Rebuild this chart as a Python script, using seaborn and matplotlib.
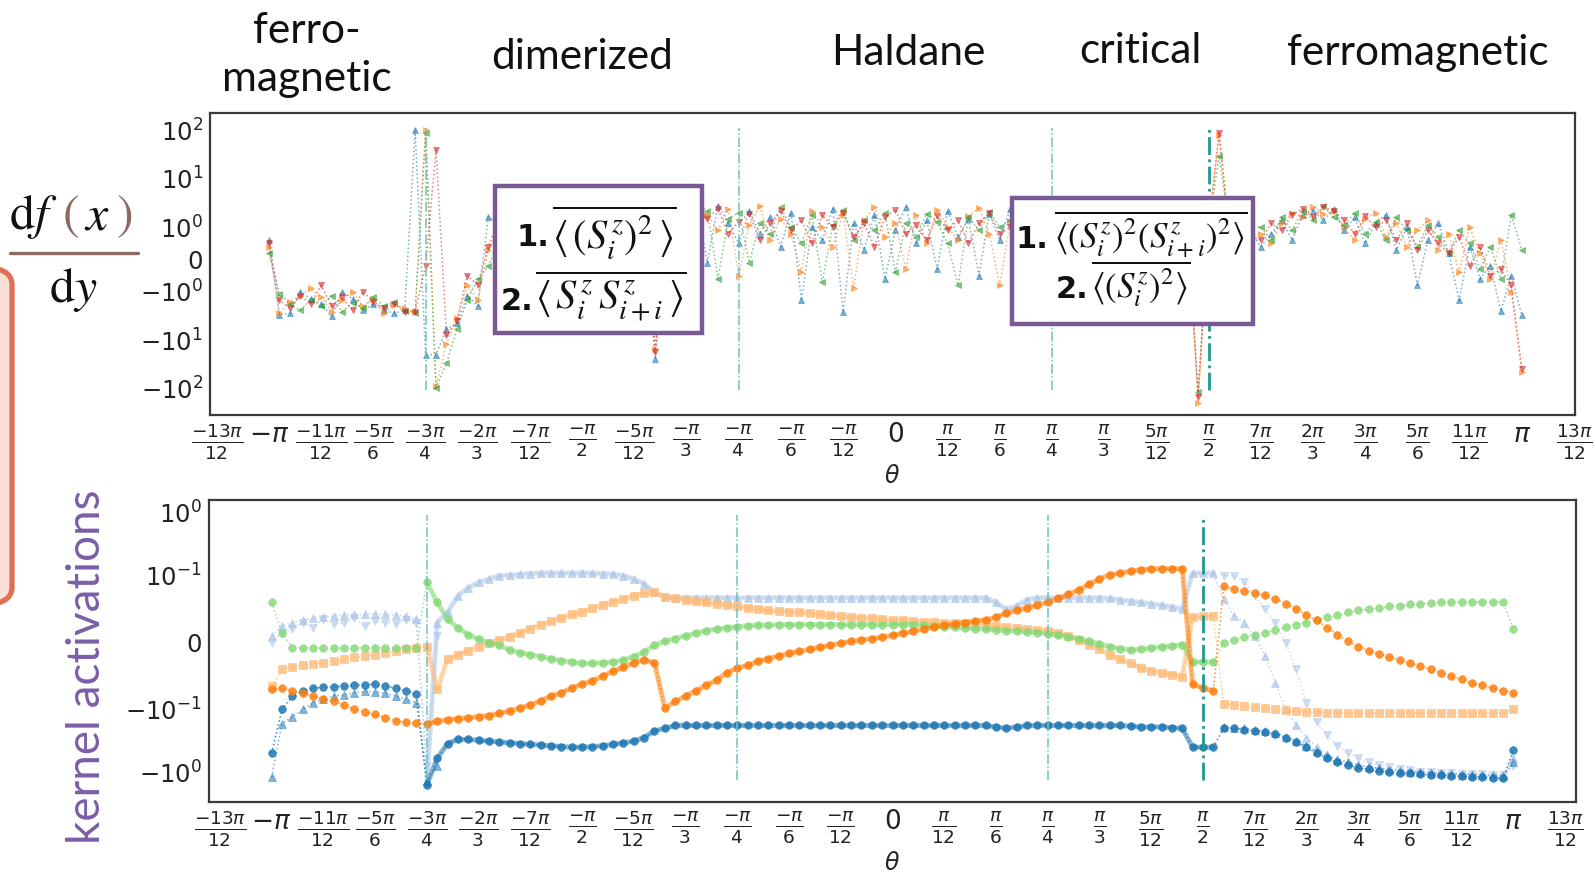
import numpy as np
import pandas as pd
import matplotlib
matplotlib.use("Agg")
import matplotlib.pyplot as plt
import seaborn as sns
from matplotlib.patches import FancyBboxPatch, Rectangle
from matplotlib.lines import Line2D

sns.set_style("white")
plt.rcParams["font.family"] = ["DejaVu Sans"]
plt.rcParams["mathtext.fontset"] = "dejavusans"

PI = np.pi
# coupling angle grid, step pi/60 from -pi to pi
theta = np.arange(-60, 61) * PI / 60

# ---------------- top panel: df(x)/dy for four inputs ----------------
grad_blue = [
    0.6, -3.0, -2.8, -1.0, -1.4, -1.8, -3.2, -1.0, -1.4, -2.4, -1.8, -2.4, -2.8, -2.4,
    100, -20, -20, -6, -4.5, -1.2, -2.0, 1.6,
    1.2, 2.0, 0.8, 1.6, 2.4, 1.0, 1.8, 0.6, 2.2, 1.4, 0.8, 1.6, 2.0, 0.4, 1.0, -25, 0.8, 2.6, 3.0, 2.4,
    -0.1, 2.8, 1.2, 0.5, 2.2, 0.8, 1.6, 0.4, 2.0, -1.5, 1.0, 0.6, 2.4, -2.6, 1.2,
    0.3, 1.8, -0.6, 0.9, 2.6, 0.5, 1.4, -0.3, 2.2, 0.7, 1.5, -0.5, 1.9, 0.6, 2.4,
    1.0, 2.8, 0.6, 1.6, 2.2, 0.4, 1.2, 2.6, 0.8, 1.8, 0.5, 1.4, 2.0, 0.9, 1.6, 0.7, 1.2, 1.0, 0.8, 1.5, 0.6, 1.1, 0.9,
    0.4, 0.8, 1.4, 0.6, 1.8, 2.2, 1.4, 2.4, 0.9, 1.6, 0.5, 1.2, 1.8, 0.3, 1.0, -0.8, 0.6, 1.2, 0.2, -1.5, 0.4, -0.6, -0.2, -2.5, -0.5, -3.0,
]
grad_orange = [
    0.4, -2.8, -1.6, -1.2, -0.9, -1.3, -2.6, -1.5, -1.0, -2.0, -1.4, -2.8, -1.9, -2.2,
    -2.6, 100, -90, -12, -3.5, -0.8, -1.5, 0.3,
    0.9, 1.6, 0.7, 2.0, 1.2, 0.5, 1.7, 1.1, 2.3, 0.8, 1.5, 0.6, 1.9, 1.0, 0.7, -15, 1.2, 2.2, 3.2, 2.6,
    1.8, 0.9, 2.4, -0.5, 1.1, 2.8, 0.6, 1.5, 0.8, -0.4, 2.2, 1.0, 0.4, 1.9, -0.9,
    1.4, 2.6, 0.7, 1.2, -0.3, 1.8, 0.5, 2.3, 1.0, 0.6, 1.7, 2.5, 0.8, -0.8, 1.3,
    1.5, 0.8, 2.4, 1.1, 0.6, 1.9, 2.6, 0.9, 1.3, 0.7, 1.6, 2.0, 1.0, 0.5, 1.4, 0.8, 1.2, -200, 1.0, 80, 0.9, 0.6, 0.8,
    0.8, 0.5, 1.2, 2.0, 1.6, 2.6, 1.9, 2.2, 1.0, 0.6, 1.5, 2.0, 0.7, 1.2, 0.4, 0.9, 1.4, 0.3, 0.8, -0.4, 1.0, 0.2, -0.6, 0.6, -1.0, -45,
]
grad_green = [
    0.2, -1.1, -1.8, -2.4, -1.5, -2.0, -1.2, -2.6, -1.7, -2.2, -1.3, -2.0, -1.6, -2.5,
    -2.7, 90, -100, -30, -6, -1.5, -0.6, -0.2,
    0.5, 1.3, 2.0, 0.9, 1.6, 2.4, 0.8, 1.4, 1.1, 2.0, 0.7, 1.5, 2.2, 1.0, 0.6, -2.0, 1.4, 2.5, 3.0, 2.8,
    2.2, -0.6, 1.5, 2.0, -0.1, 1.2, 0.8, 2.6, 1.0, 0.5, 1.8, -0.7, 1.1, 2.3, 0.6,
    1.4, 0.9, 2.0, -0.4, 1.2, 0.7, 1.9, 1.3, 0.5, -0.8, 1.6, 0.9, 2.1, 1.0, 1.4,
    1.2, 2.0, 0.8, 1.5, 1.0, 2.4, 0.6, 1.3, 1.8, 0.9, 1.4, 0.7, 1.1, 1.6, 0.8, 1.2, 1.0, -120, 0.9, 30, 1.1, 0.7, 1.0,
    1.0, 0.6, 1.6, 0.9, 2.2, 1.4, 2.8, 1.6, 1.1, 2.0, 0.8, 1.3, 0.6, 1.6, 0.9, 0.4, 1.1, 0.7, 0.2, 0.9, 0.5, -0.3, 0.4, -0.6, 1.8, 0.3,
]
grad_red = [
    0.5, -1.5, -2.2, -1.2, -1.8, -0.8, -2.0, -1.3, -2.4, -1.0, -1.6, -2.2, -1.8, -2.6,
    -2.6, -0.2, 40, -8, -4, -0.5, -0.8, 0.4,
    1.4, 0.8, 2.2, 1.5, 0.9, 1.8, 2.4, 1.0, 0.6, 1.6, 2.0, 1.2, 0.8, 1.7, 0.9, -18, 1.5, 2.4, 2.8, 3.4,
    1.5, 2.4, 0.8, 1.3, 1.9, 0.6, 1.2, 2.2, 0.9, 1.4, 0.5, 1.8, 1.0, 2.0, 0.7,
    1.2, 0.4, 1.6, 2.3, 0.8, 1.1, 0.6, 1.7, 0.9, 1.4, 0.5, 1.2, 2.0, 0.8, 1.0,
    1.3, 0.9, 1.8, 2.6, 1.0, 1.4, 0.7, 2.0, 1.2, 0.8, 1.6, 1.1, 0.9, 1.5, 0.6, 1.2, 1.0, -150, 1.0, 90, 0.8, 1.0, 0.7,
    0.6, 1.2, 0.9, 1.8, 2.4, 1.6, 2.6, 2.2, 1.4, 0.8, 1.7, 1.0, 1.4, 0.6, 1.2, 0.3, 0.9, 0.5, 0.2, 0.7, -0.2, 0.4, -0.5, -0.3, -0.8, -40,
]

# ---------------- bottom panel: kernel activations ----------------
act_dark_orange = [
    -0.07, -0.068, -0.072, -0.076, -0.08, -0.085, -0.088, -0.093, -0.1, -0.11,
    -0.12, -0.135, -0.15, -0.16, -0.165, -0.17, -0.155, -0.145, -0.14, -0.135,
    -0.13, -0.125, -0.115, -0.105, -0.098, -0.093, -0.087, -0.08, -0.075, -0.068,
    -0.062, -0.057, -0.05, -0.043, -0.037, -0.03, -0.026, -0.03, -0.098, -0.088,
    -0.08, -0.072, -0.064, -0.056, -0.045, -0.038, -0.034, -0.028, -0.024, -0.02,
    -0.016, -0.013, -0.01, -0.007, -0.004, -0.001, 0.002, 0.004, 0.006, 0.008,
    0.011, 0.014, 0.017, 0.02, 0.023, 0.026, 0.028, 0.03, 0.032, 0.034,
    0.038, 0.044, 0.048, 0.052, 0.056, 0.06, 0.066, 0.072, 0.079, 0.087,
    0.095, 0.104, 0.11, 0.118, 0.124, 0.128, 0.13, 0.13, 0.128, -0.062,
    -0.068, -0.072, 0.084, 0.08, 0.077, 0.074, 0.071, 0.065, 0.058, 0.05,
    0.041, 0.033, 0.022, 0.012, 0.002, -0.006, -0.012, -0.017, -0.022, -0.026,
    -0.031, -0.035, -0.04, -0.045, -0.05, -0.055, -0.06, -0.064, -0.068, -0.072,
    -0.075,
]
act_light_orange = [
    -0.065, -0.04, -0.036, -0.034, -0.032, -0.03, -0.028, -0.025, -0.022, -0.02,
    -0.018, -0.016, -0.013, -0.01, -0.008, -0.006, -0.07, -0.025, -0.018, -0.012,
    -0.006, -0.001, 0.004, 0.009, 0.015, 0.021, 0.027, 0.032, 0.037, 0.042,
    0.046, 0.051, 0.056, 0.061, 0.065, 0.07, 0.074, 0.075, 0.068, 0.066,
    0.064, 0.062, 0.06, 0.058, 0.056, 0.054, 0.052, 0.05, 0.048, 0.047,
    0.046, 0.045, 0.044, 0.042, 0.041, 0.039, 0.038, 0.037, 0.036, 0.035,
    0.034, 0.033, 0.032, 0.031, 0.031, 0.03, 0.03, 0.03, 0.029, 0.027,
    0.025, 0.024, 0.022, 0.021, 0.019, 0.017, 0.014, 0.01, 0.004, -0.003,
    -0.01, -0.018, -0.025, -0.031, -0.038, -0.042, -0.045, -0.048, -0.051, 0.038,
    0.039, 0.04, -0.092, -0.093, -0.095, -0.097, -0.098, -0.1, -0.103, -0.106,
    -0.108, -0.11, -0.112, -0.113, -0.114, -0.115, -0.115, -0.115, -0.115, -0.115,
    -0.115, -0.115, -0.115, -0.115, -0.115, -0.115, -0.115, -0.115, -0.115, -0.115,
    -0.1,
]
act_light_blue = [
    0.01, 0.025, 0.03, 0.033, 0.036, 0.038, 0.04, 0.041, 0.042, 0.042,
    0.043, 0.042, 0.041, 0.04, 0.035, -1.4, 0.03, 0.045, 0.07, 0.082,
    0.09, 0.095, 0.1, 0.102, 0.105, 0.108, 0.11, 0.11, 0.11, 0.11,
    0.11, 0.11, 0.108, 0.105, 0.1, 0.095, 0.088, 0.075, 0.068, 0.067,
    0.067, 0.067, 0.067, 0.067, 0.067, 0.067, 0.067, 0.067, 0.067, 0.067,
    0.067, 0.067, 0.067, 0.067, 0.067, 0.067, 0.067, 0.067, 0.067, 0.067,
    0.067, 0.067, 0.067, 0.067, 0.067, 0.067, 0.067, 0.067, 0.067, 0.067,
    0.06, 0.05, 0.055, 0.064, 0.067, 0.067, 0.067, 0.067, 0.067, 0.067,
    0.067, 0.066, 0.064, 0.062, 0.06, 0.058, 0.056, 0.053, 0.05, 0.11,
    0.11, 0.11, 0.065, 0.04, 0.03, 0.01, -0.02, -0.06, -0.1, -0.18,
    -0.28, -0.4, -0.52, -0.62, -0.7, -0.77, -0.82, -0.86, -0.9, -0.93,
    -0.96, -0.98, -1.0, -1.02, -1.04, -1.05, -1.06, -1.07, -1.08, -1.1,
    -0.6,
]
act_dark_blue = [
    -0.5, -0.1, -0.08, -0.072, -0.068, -0.067, -0.066, -0.065, -0.064, -0.063,
    -0.062, -0.065, -0.068, -0.072, -0.077, -1.6, -0.6, -0.35, -0.3, -0.3,
    -0.31, -0.32, -0.33, -0.34, -0.35, -0.36, -0.37, -0.38, -0.39, -0.4,
    -0.4, -0.39, -0.38, -0.36, -0.34, -0.32, -0.28, -0.22, -0.2, -0.18,
    -0.18, -0.18, -0.18, -0.18, -0.18, -0.18, -0.18, -0.18, -0.18, -0.18,
    -0.18, -0.18, -0.18, -0.18, -0.18, -0.18, -0.18, -0.18, -0.18, -0.18,
    -0.18, -0.18, -0.18, -0.18, -0.18, -0.18, -0.18, -0.18, -0.18, -0.18,
    -0.19, -0.2, -0.19, -0.18, -0.18, -0.18, -0.18, -0.18, -0.18, -0.18,
    -0.18, -0.18, -0.18, -0.185, -0.19, -0.19, -0.19, -0.195, -0.2, -0.4,
    -0.4, -0.4, -0.2, -0.2, -0.21, -0.22, -0.23, -0.25, -0.28, -0.33,
    -0.4, -0.5, -0.6, -0.7, -0.78, -0.85, -0.9, -0.95, -0.99, -1.02,
    -1.05, -1.08, -1.1, -1.12, -1.14, -1.16, -1.18, -1.2, -1.22, -1.25,
    -0.45,
]
act_green = [
    0.06, 0.015, -0.008, -0.008, -0.008, -0.008, -0.008, -0.008, -0.008, -0.008,
    -0.008, -0.008, -0.008, -0.008, -0.008, 0.09, 0.06, 0.035, 0.022, 0.012,
    0.005, 0.0, -0.004, -0.011, -0.015, -0.018, -0.021, -0.024, -0.027, -0.029,
    -0.031, -0.031, -0.03, -0.029, -0.026, -0.021, -0.014, -0.004, 0.002, 0.006,
    0.01, 0.014, 0.018, 0.02, 0.022, 0.024, 0.025, 0.026, 0.026, 0.027,
    0.027, 0.027, 0.027, 0.027, 0.027, 0.027, 0.027, 0.027, 0.027, 0.027,
    0.027, 0.027, 0.027, 0.026, 0.025, 0.024, 0.023, 0.022, 0.021, 0.02,
    0.019, 0.018, 0.017, 0.016, 0.015, 0.013, 0.011, 0.009, 0.006, 0.002,
    -0.002, -0.006, -0.009, -0.011, -0.01, -0.008, -0.006, -0.005, -0.003, -0.029,
    -0.029, -0.029, 0.0, 0.004, 0.008, 0.012, 0.015, 0.019, 0.023, 0.027,
    0.03, 0.034, 0.038, 0.041, 0.045, 0.048, 0.05, 0.052, 0.054, 0.055,
    0.057, 0.058, 0.059, 0.06, 0.06, 0.061, 0.061, 0.061, 0.061, 0.061,
    0.02,
]
# secondary runs, only distinct in the ferromagnetic phases
theta_ferro_left = theta[:17]
theta_ferro_right = theta[92:]
act_light_blue_left2 = [0.0, 0.015, 0.02, 0.03, 0.022, 0.035, 0.028, 0.03, 0.036,
                        0.025, 0.032, 0.03, 0.028, 0.034, 0.03, -0.8, 0.01]
act_dark_blue_left2 = [-1.2, -0.17, -0.13, -0.1, -0.09, -0.085, -0.08, -0.078, -0.075,
                       -0.073, -0.074, -0.076, -0.08, -0.085, -0.09, -1.4, -0.8]
act_light_blue_right2 = [0.1, 0.1, 0.09, 0.07, 0.05, 0.03, 0.0, -0.04, -0.09, -0.16,
                         -0.26, -0.38, -0.5, -0.6, -0.7, -0.78, -0.84, -0.9, -0.94, -0.98,
                         -1.0, -1.02, -1.04, -1.06, -1.07, -1.08, -1.1, -1.12, -0.8]
act_dark_blue_right2 = [-0.19, -0.2, -0.2, -0.21, -0.22, -0.24, -0.27, -0.32, -0.38, -0.46,
                        -0.55, -0.63, -0.7, -0.76, -0.82, -0.87, -0.91, -0.95, -0.98, -1.0,
                        -1.03, -1.05, -1.07, -1.09, -1.1, -1.12, -1.14, -1.16, -0.7]

# phase boundaries
boundaries = [-3 * PI / 4, -PI / 4, PI / 4]
critical_point = PI / 2

phase_names = ["ferro-\nmagnetic", "dimerized", "Haldane", "critical", "ferromagnetic"]

tick_labels = [
    r"$\frac{-13\pi}{12}$", r"$-\pi$", r"$\frac{-11\pi}{12}$", r"$\frac{-5\pi}{6}$",
    r"$\frac{-3\pi}{4}$", r"$\frac{-2\pi}{3}$", r"$\frac{-7\pi}{12}$", r"$\frac{-\pi}{2}$",
    r"$\frac{-5\pi}{12}$", r"$\frac{-\pi}{3}$", r"$\frac{-\pi}{4}$", r"$\frac{-\pi}{6}$",
    r"$\frac{-\pi}{12}$", r"$0$", r"$\frac{\pi}{12}$", r"$\frac{\pi}{6}$",
    r"$\frac{\pi}{4}$", r"$\frac{\pi}{3}$", r"$\frac{5\pi}{12}$", r"$\frac{\pi}{2}$",
    r"$\frac{7\pi}{12}$", r"$\frac{2\pi}{3}$", r"$\frac{3\pi}{4}$", r"$\frac{5\pi}{6}$",
    r"$\frac{11\pi}{12}$", r"$\pi$", r"$\frac{13\pi}{12}$",
]
tick_values = np.arange(-13, 14) * PI / 12

W, H = 1595, 875
fig = plt.figure(figsize=(W / 100, H / 100), dpi=100)


def px_box(x0, y0, x1, y1):
    return [x0 / W, 1 - y1 / H, (x1 - x0) / W, (y1 - y0) / H]


def fx(px):
    return px / W


def fy(py):
    return 1 - py / H


ax1 = fig.add_axes(px_box(210, 113, 1575, 415))
ax2 = fig.add_axes(px_box(209, 500, 1576, 802))

# top panel curves
top_series = [
    (grad_blue, "#1f77b4", "^"),
    (grad_orange, "#ff7f0e", ">"),
    (grad_green, "#2ca02c", "<"),
    (grad_red, "#d62728", "v"),
]
for vals, col, mk in top_series:
    df = pd.DataFrame({"theta": theta, "val": vals})
    sns.lineplot(data=df, x="theta", y="val", ax=ax1, color=col, marker=mk,
                 markersize=4, linestyle=":", linewidth=1.1, alpha=0.6,
                 markeredgecolor=col, markeredgewidth=0.5, errorbar=None)

ax1.set_yscale("symlog", linthresh=1, linscale=0.6)
ax1.set_ylim(-355, 230)
ax1.set_xlim(-13.13 * PI / 12, 13.02 * PI / 12)
ax1.vlines(boundaries, -110, 110, colors="#6cc3bb", linestyles="-.", linewidth=1.1)
ax1.vlines([critical_point], -110, 110, colors="#1f9990", linestyles="-.", linewidth=2.0)
ax1.set_yticks([-100, -10, -1, 0, 1, 10, 100])
ax1.set_yticklabels([r"$-10^{2}$", r"$-10^{1}$", r"$-10^{0}$", r"$0$",
                     r"$10^{0}$", r"$10^{1}$", r"$10^{2}$"])

# bottom panel curves
bottom_series = [
    (theta, act_light_blue, "#aec7e8", "^", 0.75, True),
    (theta_ferro_left, act_light_blue_left2, "#aec7e8", "v", 0.6, False),
    (theta_ferro_right, act_light_blue_right2, "#aec7e8", "v", 0.6, False),
    (theta, act_light_orange, "#ffbb78", "s", 0.8, True),
    (theta, act_green, "#86d976", "o", 0.8, True),
    (theta_ferro_left, act_dark_blue_left2, "#1f77b4", "^", 0.55, False),
    (theta_ferro_right, act_dark_blue_right2, "#1f77b4", "^", 0.5, False),
    (theta, act_dark_blue, "#1f77b4", "o", 0.85, True),
    (theta, act_dark_orange, "#ff7f0e", "o", 0.85, True),
]
mid = slice(15, 92)  # dense sampling region between the ferromagnetic phases
for xs, vals, col, mk, a, band in bottom_series:
    df = pd.DataFrame({"theta": xs, "val": vals})
    if band:
        sns.lineplot(data=df.iloc[mid], x="theta", y="val", ax=ax2, color=col,
                     linewidth=3.6, alpha=0.55, errorbar=None)
    sns.lineplot(data=df, x="theta", y="val", ax=ax2, color=col, marker=mk,
                 markersize=5.5, linestyle=":", linewidth=1.1, alpha=a,
                 markeredgecolor=col, markeredgewidth=0.5, errorbar=None)

ax2.set_yscale("symlog", linthresh=0.1, linscale=0.96)
ax2.set_ylim(-2.99, 1.61)
ax2.set_xlim(-13.21 * PI / 12, 13.21 * PI / 12)
ax2.vlines(boundaries, -1.35, 0.93, colors="#6cc3bb", linestyles="-.", linewidth=1.1)
ax2.vlines([critical_point], -1.35, 0.93, colors="#1f9990", linestyles="-.", linewidth=2.0)
ax2.set_yticks([-1, -0.1, 0, 0.1, 1])
ax2.set_yticklabels([r"$-10^{0}$", r"$-10^{-1}$", r"$0$", r"$10^{-1}$", r"$10^{0}$"])

for ax in (ax1, ax2):
    ax.set_xticks(tick_values)
    ax.set_xticklabels(tick_labels)
    ax.set_xticks(np.arange(-52, 53) * PI / 48, minor=True)
    ax.yaxis.set_minor_locator(matplotlib.ticker.NullLocator())
    ax.tick_params(axis="x", which="major", direction="out", length=3, width=1.2,
                   labelsize=19, pad=2, colors="#222222")
    ax.tick_params(axis="x", which="minor", direction="out", length=2, width=1.0,
                   colors="#444444")
    ax.tick_params(axis="y", which="major", direction="out", length=3, width=1.2,
                   labelsize=17.5, pad=2, colors="#222222")
    ax.set_xlabel(r"$\theta$", fontsize=17, labelpad=1)
    ax.set_ylabel("")
    for s in ax.spines.values():
        s.set_color("#3a3a3a")
        s.set_linewidth(1.6)
    ax.set_facecolor("white")

# phase names above the top panel
header_font = dict(family="Lato", fontsize=30.5, color="#111111", ha="center", va="center")
fig.text(fx(307), fy(55), phase_names[0], linespacing=1.3, **header_font)
fig.text(fx(582), fy(57), phase_names[1], **header_font)
fig.text(fx(908), fy(53), phase_names[2], **header_font)
fig.text(fx(1140), fy(51), phase_names[3], **header_font)
fig.text(fx(1418), fy(53), phase_names[4], **header_font)

# left-hand side labels
fig.text(fx(87), fy(667), "kernel activations", family="Lato", fontsize=33,
         color="#7a5ea8", rotation=90, ha="center", va="center")

brown = "#8a6a62"
frac_font = dict(fontsize=36, va="baseline", ha="left", math_fontfamily="stix")
fig.text(fx(9), fy(229), r"$\mathrm{d}f$", color="#111111", **frac_font)
fig.text(fx(62), fy(229), r"$($", color=brown, **frac_font)
fig.text(fx(84), fy(229), r"$x$", color="#111111", **frac_font)
fig.text(fx(116), fy(229), r"$)$", color=brown, **frac_font)
fig.text(fx(73), fy(302), r"$\mathrm{d}y$", color="#111111", fontsize=36,
         va="baseline", ha="center", math_fontfamily="stix")
fig.add_artist(Line2D([fx(10), fx(138)], [fy(253), fy(253)], color=brown,
                      linewidth=2.4, transform=fig.transFigure))

# rounded tab on the left edge
fig.patches.append(FancyBboxPatch((fx(-60), fy(605)), fx(72), fy(267) - fy(605),
                                  boxstyle="round,pad=0,rounding_size=0.02",
                                  facecolor="#fbe0d8", edgecolor="#e07055",
                                  linewidth=3.8, transform=fig.transFigure,
                                  figure=fig, zorder=1))

# formula boxes
purple = "#7a5a94"
for (x0, y0, x1, y1) in [(495, 186, 702, 333), (1012, 198, 1253, 324)]:
    fig.patches.append(Rectangle((fx(x0), fy(y1)), fx(x1) - fx(x0), fy(y0) - fy(y1),
                                 facecolor="white", edgecolor=purple, linewidth=3.2,
                                 transform=fig.transFigure, figure=fig, zorder=2))

num_font = dict(family="DejaVu Sans", fontweight="heavy", fontsize=22, color="#111111",
                va="center", ha="right", zorder=4)
math_big = dict(fontsize=29, color="#111111", va="center", ha="left",
                math_fontfamily="stix", zorder=4)
math_small = dict(fontsize=25, color="#111111", va="center", ha="left",
                  math_fontfamily="stix", zorder=4)
fig.text(fx(549), fy(238), "1.", **num_font)
fig.text(fx(552), fy(232), r"$\overline{\langle\, (S_i^z)^2\, \rangle}$", **math_big)
fig.text(fx(533), fy(301), "2.", **num_font)
fig.text(fx(535), fy(296), r"$\overline{\langle\, S_i^z\, S_{i+i}^z\, \rangle}$", **math_big)

fig.text(fx(1048), fy(239), "1.", **num_font)
fig.text(fx(1054), fy(234), r"$\overline{\langle (S_i^z)^2 (S_{i+i}^z)^2 \rangle}$", **math_small)
fig.text(fx(1088), fy(290), "2.", **num_font)
fig.text(fx(1091), fy(284), r"$\overline{\langle (S_i^z)^2 \rangle}$", **math_small)

fig.savefig("out.png", dpi=100, facecolor="white")
